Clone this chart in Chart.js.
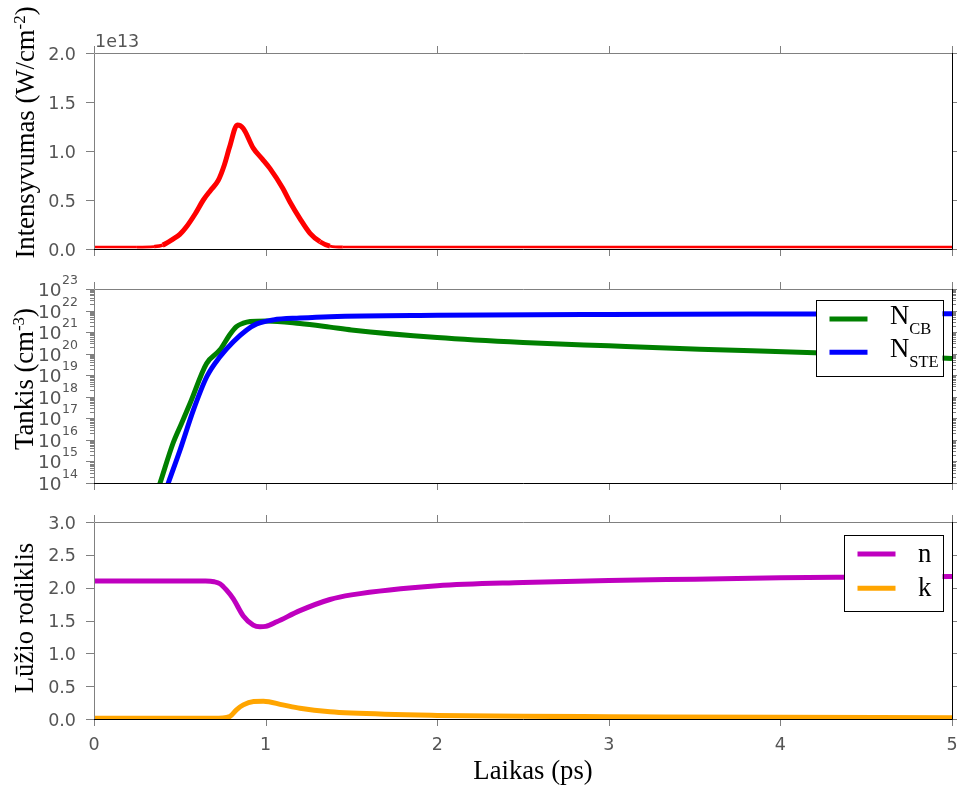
<!DOCTYPE html>
<html>
<head>
<meta charset="utf-8">
<script src="https://cdn.jsdelivr.net/npm/chart.js@4.4.1/dist/chart.umd.min.js"></script>
<style>
  html, body { margin: 0; padding: 0; background: #fff; }
  #wrap { position: relative; width: 957px; height: 787px; overflow: hidden; }
  #wrap canvas { position: absolute; left: 0; }
</style>
</head>
<body>
<div id="wrap">
  <canvas id="cInt" width="957" height="270" style="top:0px"></canvas>
  <canvas id="cDen" width="957" height="230" style="top:270px"></canvas>
  <canvas id="cIdx" width="957" height="287" style="top:500px"></canvas>
</div>
<script>
// ---- shared time axis (ps) ----
const timeTicks = [0, 1, 2, 3, 4, 5];
const timeTickLabels = ['0', '1', '2', '3', '4', '5'];

// ---- laser pulse intensity, in units of 1e13 W/cm^2 ----
const intensityTime   = [0, 0.25, 0.35, 0.40, 0.46, 0.50, 0.54, 0.59, 0.637, 0.68, 0.724, 0.76, 0.79, 0.835, 0.87, 0.928, 0.98, 1.026, 1.10, 1.142, 1.20, 1.259, 1.317, 1.375, 1.45, 2, 3, 4, 5];
const intensityValues = [0.02, 0.02, 0.025, 0.04, 0.10, 0.15, 0.23, 0.36, 0.50, 0.60, 0.70, 0.86, 1.04, 1.265, 1.23, 1.03, 0.92, 0.82, 0.62, 0.48, 0.31, 0.16, 0.075, 0.03, 0.02, 0.02, 0.02, 0.02, 0.02];
const intensityTicks = [0, 0.5, 1.0, 1.5, 2.0];
const intensityTickLabels = ['0.0', '0.5', '1.0', '1.5', '2.0'];
const intensityOffsetLabel = '1e13';

// ---- carrier densities (cm^-3) ----
const ncbTime    = [0.30, 0.385, 0.46, 0.51, 0.56, 0.656, 0.734, 0.79, 0.83, 0.87, 0.91, 1.006, 1.2, 1.375, 1.5, 2, 2.5, 3, 3.53, 4.2, 5];
const ncbValues  = [1e12, 1e14, 6.8e15, 5.8e16, 5.0e17, 3.5e19, 1.5e20, 7.4e20, 1.8e21, 2.6e21, 3.1e21, 3.3e21, 2.5e21, 1.7e21, 1.26e21, 5.6e20, 3.3e20, 2.3e20, 1.6e20, 1.1e20, 5.9e19];
const nsteTime   = [0.38, 0.433, 0.501, 0.579, 0.657, 0.734, 0.812, 0.89, 0.948, 1.045, 1.2, 1.375, 2, 3, 4, 5];
const nsteValues = [6e12, 1e14, 3.3e15, 2.4e17, 8.5e18, 7.2e19, 3.6e20, 1.26e21, 2.4e21, 3.7e21, 4.5e21, 5.2e21, 6.0e21, 6.6e21, 6.9e21, 7.1e21];
const densityExponents = [14, 15, 16, 17, 18, 19, 20, 21, 22, 23];

// ---- refractive index: real part n and extinction k ----
const nTime   = [0, 0.5, 0.65, 0.70, 0.734, 0.77, 0.812, 0.87, 0.928, 0.967, 1.0, 1.065, 1.2, 1.375, 1.5, 2, 2.5, 3, 3.5, 4, 4.5, 5];
const nValues = [2.1, 2.1, 2.1, 2.09, 2.06, 1.97, 1.83, 1.57, 1.43, 1.405, 1.41, 1.48, 1.65, 1.82, 1.89, 2.03, 2.08, 2.11, 2.13, 2.15, 2.16, 2.17];
const kTime   = [0, 0.70, 0.79, 0.83, 0.87, 0.93, 0.987, 1.1, 1.2, 1.375, 1.5, 2, 2.5, 3, 4, 5];
const kValues = [0.01, 0.01, 0.035, 0.14, 0.215, 0.265, 0.27, 0.215, 0.165, 0.11, 0.09, 0.055, 0.04, 0.035, 0.025, 0.02];
const indexTicks = [0, 0.5, 1.0, 1.5, 2.0, 2.5, 3.0];
const indexTickLabels = ['0.0', '0.5', '1.0', '1.5', '2.0', '2.5', '3.0'];

// ---- drawing helpers ----
const SERIF = '"Liberation Serif", "Times New Roman", serif';
const SANS = '"DejaVu Sans", sans-serif';
const TICK_GRAY = '#808080';
const LABEL_GRAY = '#555555';

function toPoints(xs, ys) { return xs.map((x, i) => ({ x: x, y: ys[i] })); }

function lineSet(label, xs, ys, color, extra) {
  return Object.assign({
    label: label, data: toPoints(xs, ys),
    borderColor: color, backgroundColor: color,
    borderWidth: 5, pointRadius: 0, fill: false,
    cubicInterpolationMode: 'monotone', clip: 0,
    borderJoinStyle: 'round', borderCapStyle: 'butt'
  }, extra || {});
}

function richWidth(ctx, parts) {
  let w = 0;
  for (const p of parts) { ctx.font = p.size + 'px ' + SERIF; w += ctx.measureText(p.text).width; }
  return w;
}
// draws a run of text pieces (with raised / lowered pieces) starting at a baseline point
function drawRich(ctx, parts, x, y, rot, align) {
  ctx.save();
  ctx.translate(x, y);
  if (rot) ctx.rotate(rot);
  const w = richWidth(ctx, parts);
  let cx = align === 'left' ? 0 : -w / 2;
  ctx.textAlign = 'left';
  ctx.textBaseline = 'alphabetic';
  ctx.fillStyle = '#000';
  for (const p of parts) {
    ctx.font = p.size + 'px ' + SERIF;
    ctx.fillText(p.text, cx, p.dy || 0);
    cx += ctx.measureText(p.text).width;
  }
  ctx.restore();
}

// frame, ticks, tick labels, axis titles and legend of one panel
function panelPlugin(spec) {
  return {
    id: 'panelDecor',
    afterDatasetsDraw(chart) {
      const ctx = chart.ctx, a = chart.chartArea;
      const xs = chart.scales.x, ys = chart.scales.y;
      const L = a.left, R = a.right, T = a.top, B = a.bottom;
      const off = spec.offsetTop;
      ctx.save();

      // tick marks on all four sides, pointing outwards
      ctx.strokeStyle = TICK_GRAY;
      ctx.lineWidth = 1;
      ctx.beginPath();
      for (const v of timeTicks) {
        const p = Math.round(xs.getPixelForValue(v)) + 0.5;
        ctx.moveTo(p, T); ctx.lineTo(p, T - 7);
        ctx.moveTo(p, B); ctx.lineTo(p, B + 7);
      }
      for (const v of spec.yMajor) {
        const p = Math.round(ys.getPixelForValue(v)) + 0.5;
        ctx.moveTo(L, p); ctx.lineTo(L - 8, p);
        ctx.moveTo(R, p); ctx.lineTo(R + 8, p);
      }
      for (const v of (spec.yMinor || [])) {
        const p = Math.round(ys.getPixelForValue(v)) + 0.5;
        ctx.moveTo(L, p); ctx.lineTo(L - 4, p);
        ctx.moveTo(R, p); ctx.lineTo(R + 4, p);
      }
      ctx.stroke();

      // frame: light top/left, dark bottom/right
      ctx.beginPath();
      ctx.strokeStyle = TICK_GRAY;
      ctx.moveTo(L + 0.5, B); ctx.lineTo(L + 0.5, T + 0.5); ctx.lineTo(R + 1, T + 0.5);
      ctx.stroke();
      ctx.beginPath();
      ctx.strokeStyle = '#000';
      ctx.moveTo(L, B + 0.5); ctx.lineTo(R + 0.5, B + 0.5); ctx.lineTo(R + 0.5, T);
      ctx.stroke();

      // y tick labels
      ctx.fillStyle = LABEL_GRAY;
      if (spec.yLog) {
        spec.yLog.forEach(e => {
          const p = ys.getPixelForValue(Math.pow(10, e));
          ctx.font = '12.5px ' + SANS;
          const ew = ctx.measureText(String(e)).width;
          const right = L - 16;
          ctx.textAlign = 'left'; ctx.textBaseline = 'alphabetic';
          ctx.fillText(String(e), right - ew, p - 5);
          ctx.font = '18.5px ' + SANS;
          ctx.textAlign = 'right';
          ctx.fillText('10', right - ew - 0.5, p + 7);
        });
      } else {
        ctx.font = '17.5px ' + SANS;
        ctx.textAlign = 'right'; ctx.textBaseline = 'alphabetic';
        spec.yMajor.forEach((v, i) => {
          const p = ys.getPixelForValue(v);
          ctx.fillText(spec.yLabels[i], L - 18, p + 6.5);
        });
      }
      if (spec.offsetLabel) {
        ctx.font = '17.5px ' + SANS;
        ctx.textAlign = 'left'; ctx.textBaseline = 'alphabetic';
        ctx.fillText(spec.offsetLabel, L + 1, T - 6);
      }

      // x tick labels and title (bottom panel only)
      if (spec.xLabels) {
        ctx.font = '17.5px ' + SANS;
        ctx.textAlign = 'center'; ctx.textBaseline = 'alphabetic';
        timeTicks.forEach((v, i) => {
          ctx.fillText(timeTickLabels[i], xs.getPixelForValue(v), B + 31);
        });
        drawRich(ctx, [{ text: 'Laikas (ps)', size: 26.7 }], 533, 779 - off, 0);
      }

      // y axis title
      drawRich(ctx, spec.yTitle, spec.yTitleX, spec.yTitleY - off, -Math.PI / 2);

      // legend
      if (spec.legend) {
        const lg = spec.legend;
        const bx = R - lg.rightGap - lg.w, by = T + lg.topGap;
        ctx.fillStyle = '#fff';
        ctx.fillRect(bx, by, lg.w, lg.h);
        ctx.strokeStyle = '#000';
        ctx.lineWidth = 1;
        ctx.strokeRect(Math.round(bx) + 0.5, Math.round(by) + 0.5, Math.round(lg.w), Math.round(lg.h));
        lg.items.forEach((it, i) => {
          const ly = by + lg.firstRow + i * lg.rowGap;
          ctx.strokeStyle = it.color;
          ctx.lineWidth = 5;
          ctx.lineCap = 'butt';
          ctx.beginPath();
          ctx.moveTo(bx + 13.5, ly); ctx.lineTo(bx + 51.5, ly);
          ctx.stroke();
          drawRich(ctx, it.parts, bx + 74, ly + lg.textDy, 0, 'left');
        });
      }
      ctx.restore();
    }
  };
}

function baseOptions(pad, yScale) {
  return {
    responsive: false, animation: false, events: [], devicePixelRatio: 1,
    layout: { padding: pad },
    plugins: { legend: { display: false }, tooltip: { enabled: false } },
    scales: {
      x: { type: 'linear', min: 0, max: 5, display: false },
      y: Object.assign({ display: false }, yScale)
    }
  };
}

// ---- panel 1: pulse intensity ----
// the trace thins out where it runs along the floor of the panel
function pulseWidth(c) {
  const top = Math.max(c.p0.parsed.y, c.p1.parsed.y);
  const f = Math.min(1, Math.max(0, (top - 0.02) / 0.06));
  return 2.5 + 2.5 * f;
}

new Chart(document.getElementById('cInt'), {
  type: 'line',
  data: {
    datasets: [lineSet('I', intensityTime, intensityValues, '#ff0000', {
      segment: { borderWidth: pulseWidth }
    })]
  },
  options: baseOptions({ left: 94, right: 5, top: 53, bottom: 21 }, { type: 'linear', min: 0, max: 2 }),
  plugins: [panelPlugin({
    offsetTop: 0,
    yMajor: intensityTicks, yLabels: intensityTickLabels,
    offsetLabel: intensityOffsetLabel,
    yTitle: [
      { text: 'Intensyvumas (W/cm', size: 26.7 },
      { text: '-2', size: 17, dy: -9.5 },
      { text: ')', size: 26.7 }
    ],
    yTitleX: 34, yTitleY: 132.5
  })]
});

// ---- panel 2: carrier densities ----
const densityMinor = [];
for (let e = 14; e < 23; e++) for (let m = 2; m <= 9; m++) densityMinor.push(m * Math.pow(10, e));

new Chart(document.getElementById('cDen'), {
  type: 'line',
  data: {
    datasets: [
      lineSet('NCB', ncbTime, ncbValues, '#008000', { order: 2 }),
      lineSet('NSTE', nsteTime, nsteValues, '#0000ff', { order: 1 })
    ]
  },
  options: baseOptions({ left: 94, right: 5, top: 19, bottom: 17 }, { type: 'logarithmic', min: 1e14, max: 1e23 }),
  plugins: [panelPlugin({
    offsetTop: 270,
    yMajor: densityExponents.map(e => Math.pow(10, e)),
    yMinor: densityMinor,
    yLog: densityExponents,
    yTitle: [
      { text: 'Tankis (cm', size: 26.7 },
      { text: '-3', size: 17, dy: -9.5 },
      { text: ')', size: 26.7 }
    ],
    yTitleX: 33, yTitleY: 379,
    legend: {
      w: 126.5, h: 75.5, rightGap: 9.5, topGap: 10.5, firstRow: 19.5, rowGap: 33.3, textDy: 5,
      items: [
        { color: '#008000', parts: [{ text: 'N', size: 26.7 }, { text: 'CB', size: 16.5, dy: 9.5 }] },
        { color: '#0000ff', parts: [{ text: 'N', size: 26.7 }, { text: 'STE', size: 16.5, dy: 9.5 }] }
      ]
    }
  })]
});

// ---- panel 3: refractive index ----
new Chart(document.getElementById('cIdx'), {
  type: 'line',
  data: {
    datasets: [
      lineSet('n', nTime, nValues, '#bf00bf', { order: 2 }),
      lineSet('k', kTime, kValues, '#ffa500', { order: 1 })
    ]
  },
  options: baseOptions({ left: 94, right: 5, top: 22, bottom: 68 }, { type: 'linear', min: 0, max: 3 }),
  plugins: [panelPlugin({
    offsetTop: 500,
    yMajor: indexTicks, yLabels: indexTickLabels,
    xLabels: true,
    yTitle: [{ text: 'Lūžio rodiklis', size: 26.7 }],
    yTitleX: 33, yTitleY: 618,
    legend: {
      w: 98.5, h: 75.5, rightGap: 9.5, topGap: 12.5, firstRow: 19.5, rowGap: 34.3, textDy: 7.5,
      items: [
        { color: '#bf00bf', parts: [{ text: 'n', size: 26.7 }] },
        { color: '#ffa500', parts: [{ text: 'k', size: 26.7 }] }
      ]
    }
  })]
});
</script>
</body>
</html>
